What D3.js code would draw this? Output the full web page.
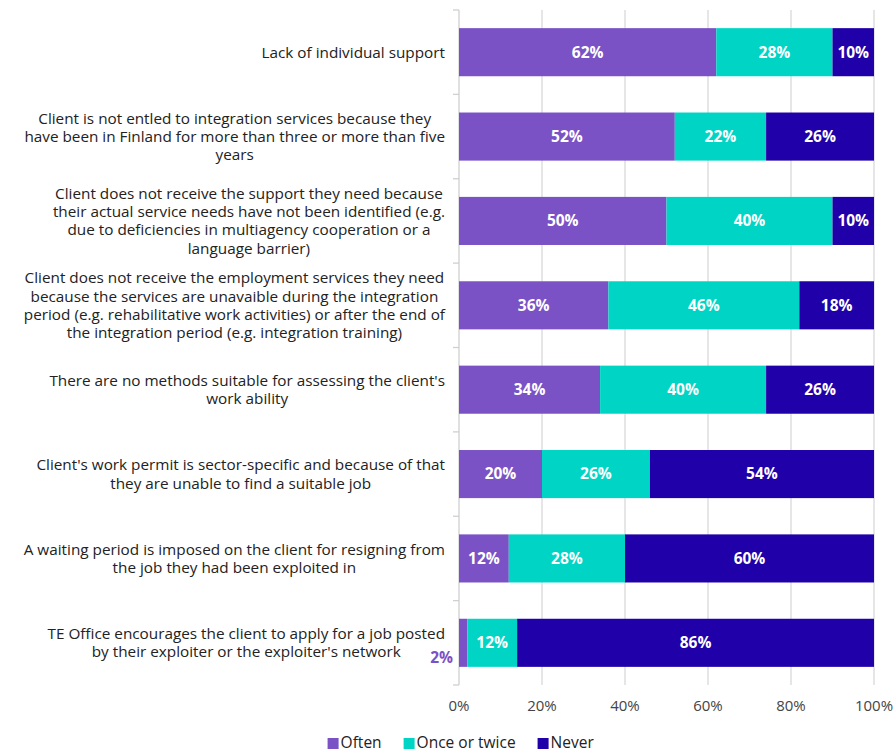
<!DOCTYPE html>
<html>
<head>
<meta charset="utf-8">
<script src="https://cdn.jsdelivr.net/npm/d3@7"></script>
<style>
  html, body { margin: 0; padding: 0; background: #ffffff; }
  svg { display: block; }
  text { font-family: "Open Sans", "Noto Sans", sans-serif; }
</style>
</head>
<body>
<svg id="chart" width="895" height="754"></svg>
<script>
// Category labels, each split into the lines it is drawn on
const categories = [
  ["Lack of individual support"],
  ["Client is not entled to integration services because they",
   "have been in Finland for more than three or more than five",
   "years"],
  ["Client does not receive the support they need because",
   "their actual service needs have not been identified (e.g.",
   "due to deficiencies in multiagency cooperation or a",
   "language barrier)"],
  ["Client does not receive the employment services they need",
   "because the services are unavaible during the integration",
   "period (e.g. rehabilitative work activities) or after the end of",
   "the integration period (e.g. integration training)"],
  ["There are no methods suitable for assessing the client's",
   "work ability"],
  ["Client's work permit is sector-specific and because of that",
   "they are unable to find a suitable job"],
  ["A waiting period is imposed on the client for resigning from",
   "the job they had been exploited in"],
  ["TE Office encourages the client to apply for a job posted",
   "by their exploiter or the exploiter's network"]
];

const seriesNames = ["Often", "Once or twice", "Never"];
const often       = [62, 52, 50, 36, 34, 20, 12, 2];
const onceOrTwice = [28, 22, 40, 46, 40, 26, 28, 12];
const never       = [10, 26, 10, 18, 26, 54, 60, 86];
const tickValues  = [0, 20, 40, 60, 80, 100];

const colors = ["#7a52c5", "#00d5c5", "#2000a8"];

const svg = d3.select("#chart");
const margin = { left: 459, right: 21, top: 10, bottom: 69 };
const W = 895, H = 754;

const rows = categories.map((c, i) => ({
  idx: i,
  "Often": often[i],
  "Once or twice": onceOrTwice[i],
  "Never": never[i]
}));

const x = d3.scaleLinear().domain([0, 100]).range([margin.left, W - margin.right]);
const y = d3.scaleBand().domain(d3.range(categories.length))
  .range([margin.top, H - margin.bottom]).paddingInner(0.43).paddingOuter(0.215);

// vertical gridlines
svg.append("g")
  .selectAll("line")
  .data(tickValues.filter(t => t > 0))
  .join("line")
  .attr("x1", d => x(d)).attr("x2", d => x(d))
  .attr("y1", margin.top).attr("y2", H - margin.bottom)
  .attr("stroke", "#d9d9d9").attr("stroke-width", 1.3);

// category axis line with ticks between bands
const step = y.step();
const axisG = svg.append("g");
axisG.append("line")
  .attr("x1", margin.left).attr("x2", margin.left)
  .attr("y1", margin.top).attr("y2", H - margin.bottom)
  .attr("stroke", "#d0d0d0").attr("stroke-width", 1.3);
axisG.selectAll("line.tick")
  .data(d3.range(categories.length + 1))
  .join("line")
  .attr("class", "tick")
  .attr("x1", margin.left - 6).attr("x2", margin.left)
  .attr("y1", i => margin.top + i * step).attr("y2", i => margin.top + i * step)
  .attr("stroke", "#d0d0d0").attr("stroke-width", 1.3);

// stacked bars
const stack = d3.stack().keys(seriesNames)(rows);
const layers = svg.append("g").selectAll("g")
  .data(stack)
  .join("g")
  .attr("fill", (d, i) => colors[i]);

layers.selectAll("rect")
  .data(d => d)
  .join("rect")
  .attr("x", d => x(d[0]))
  .attr("width", d => x(d[1]) - x(d[0]))
  .attr("y", d => y(d.data.idx))
  .attr("height", y.bandwidth());

// value labels
stack.forEach((layer, si) => {
  layer.forEach(d => {
    const v = d[1] - d[0];
    const inside = v >= 5;
    const cy = y(d.data.idx) + y.bandwidth() / 2;
    svg.append("text")
      .attr("x", inside ? (x(d[0]) + x(d[1])) / 2 : x(d[0]) - 6)
      .attr("y", inside ? cy : cy + 15)
      .attr("dy", "0.35em")
      .attr("text-anchor", inside ? "middle" : "end")
      .attr("fill", inside ? "#ffffff" : colors[si])
      .attr("font-size", 15.5)
      .attr("font-weight", 700)
      .text(v + "%");
  });
});

// category labels
const lineH = 18.3;
categories.forEach((lines, i) => {
  const cy = y(i) + y.bandwidth() / 2;
  const t = svg.append("text")
    .attr("text-anchor", "middle")
    .attr("font-size", 15.3)
    .attr("fill", "#222222");
  lines.forEach((l, k) => {
    t.append("tspan")
      .attr("y", cy + (k - (lines.length - 1) / 2) * lineH)
      .attr("dy", "0.35em")
      .text(l);
  });
  // centre the block so that its widest line ends near the axis
  let maxW = 0;
  t.selectAll("tspan").each(function() { maxW = Math.max(maxW, this.getComputedTextLength()); });
  t.selectAll("tspan").attr("x", 445 - maxW / 2);
});

// x axis labels
svg.append("g")
  .selectAll("text")
  .data(tickValues)
  .join("text")
  .attr("x", d => x(d))
  .attr("y", 706)
  .attr("dy", "0.35em")
  .attr("text-anchor", "middle")
  .attr("font-size", 15)
  .attr("fill", "#444444")
  .text(d => d + "%");

// legend
const legend = svg.append("g");
const items = legend.selectAll("g").data(seriesNames).join("g");
items.append("rect").attr("width", 11).attr("height", 11).attr("y", -5)
  .attr("fill", (d, i) => colors[i]);
items.append("text").attr("x", 13).attr("dy", "0.35em")
  .attr("font-size", 15.5).attr("fill", "#222222").text(d => d);
let off = 0;
items.each(function() {
  const w = this.getBBox().width;
  d3.select(this).attr("transform", `translate(${off},743)`);
  off += w + 22;
});
legend.attr("transform", `translate(${461 - (off - 22) / 2},0)`);
</script>
</body>
</html>
